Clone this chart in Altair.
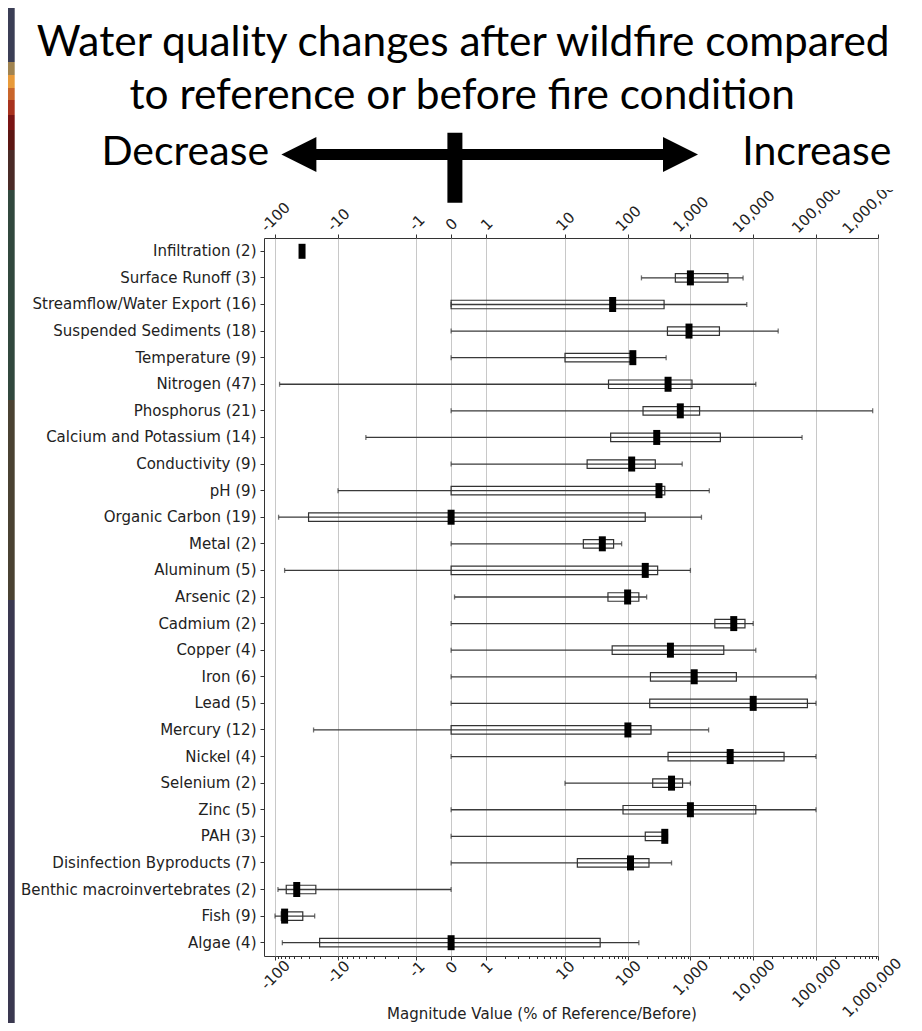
import altair as alt
import pandas as pd

# ---------------- data ----------------
names = [
    "Infiltration (2)", "Surface Runoff (3)", "Streamflow/Water Export (16)",
    "Suspended Sediments (18)", "Temperature (9)", "Nitrogen (47)",
    "Phosphorus (21)", "Calcium and Potassium (14)", "Conductivity (9)",
    "pH (9)", "Organic Carbon (19)", "Metal (2)", "Aluminum (5)",
    "Arsenic (2)", "Cadmium (2)", "Copper (4)", "Iron (6)", "Lead (5)",
    "Mercury (12)", "Nickel (4)", "Selenium (2)", "Zinc (5)", "PAH (3)",
    "Disinfection Byproducts (7)", "Benthic macroinvertebrates (2)",
    "Fish (9)", "Algae (4)",
]
whisker_low = [-40, 165, 0, 0, 0, -85, 0, -5, 0, -10, -88, 0, -71, 0.07, 0,
               0, 0, 0, -25, 0, 10, 0, 0, 0, -90, -100, -77]
q1 = [-39, 575, 0, 430, 10, 50, 175, 54, 23, 0, -30, 20, 0, 49, 2450, 57,
      230, 224, 0, 440, 250, 84, 190, 16, -67, -80, -20]
median = [-38, 1000, 58, 950, 120, 440, 690, 290, 115, 315, 0, 40, 190, 99,
          4900, 480, 1150, 10000, 100, 4300, 500, 1000, 390, 110, -46, -71, 0]
q3 = [-37, 3960, 380, 2900, 125, 1060, 1400, 3000, 275, 390, 190, 60, 300,
      150, 7400, 3400, 5400, 73000, 235, 31000, 750, 11000, 430, 218, -23,
      -37, 37]
whisker_high = [-36, 6900, 7900, 25000, 410, 11000, 810000, 60000, 740, 2000,
                1500, 80, 1000, 200, 10000, 11000, 100000, 100000, 1950,
                100000, 1000, 100000, 430, 500, 0, -24, 150]

tick_values = [-100, -10, -1, 0, 1, 10, 100, 1000, 10000, 100000, 1000000]
minor_values = ([-m * d for d in (1, 10) for m in range(2, 10)] +
                [m * d for d in (1, 10, 100, 1000, 10000, 100000) for m in range(2, 10)])

title_lines = ["Water quality changes after wildfire compared",
               "to reference or before fire condition"]
side_words = ["Decrease", "Increase"]
x_title = "Magnitude Value (% of Reference/Before)"

df = pd.DataFrame({"name": names, "lo": whisker_low, "q1": q1, "med": median,
                   "q3": q3, "hi": whisker_high})
one = pd.DataFrame({"k": [0]})

# ---------------- scales / axes ----------------
W, H = 614, 718
xscale = alt.Scale(type="symlog", constant=1, nice=False, zero=False,
                   domain=[-150] + tick_values,
                   range=[0, 11.0, 74.0, 152.4, 187.1, 222.3, 301.0, 363.9,
                          426.4, 489.2, 552.0, 614.4])
yscale = alt.Scale(type="band", paddingInner=0, paddingOuter=0)

def lab(v):
    return ("-" if v < 0 else "") + f"{abs(v):,}"

def pad_cond(base, k):
    conds = []
    for v in tick_values:
        s = lab(v)
        w = sum(9.54 if c.isdigit() else (4.77 if c == "," else 5.41) for c in s)
        conds.append({"test": f"datum.value === {v}", "value": round(base + (w + 11) * k, 1)})
    return {"condition": conds, "value": base}

# keep the widest label inside the page
offset_cond = {"condition": [{"test": "datum.value === 1000000", "value": -7}], "value": 0}

label_expr = "(datum.value < 0 ? '-' : '') + format(abs(datum.value), ',')"
FONT = "DejaVu Sans"

axis_bottom = alt.Axis(orient="bottom", values=tick_values, labelExpr=label_expr,
                       labelAngle=315, labelAlign="center", labelBaseline="middle",
                       labelPadding=pad_cond(1, 0.3), labelOffset=offset_cond,
                       labelFont=FONT, labelFontSize=15,
                       labelColor="#222", tickSize=4, tickColor="#333", domain=False,
                       grid=True, gridColor="#c8c8c8", gridWidth=1,
                       title=x_title, titleFont=FONT, titleFontSize=15,
                       titleFontWeight="normal", titleColor="#222",
                       titleX=277.5, titleY=62, titleAlign="center",
                       titleBaseline="alphabetic", labelOverlap=False, labelFlush=False,
                       labelLimit=0)
axis_top = alt.Axis(orient="top", values=tick_values, labelExpr=label_expr,
                    labelAngle=315, labelAlign="center", labelBaseline="middle",
                    labelPadding=pad_cond(4, 0.3), labelOffset=offset_cond,
                    labelFont=FONT, labelFontSize=15,
                    labelColor="#222", tickSize=4, tickColor="#333", domain=False,
                    grid=False, title=None, labelOverlap=False, labelFlush=False,
                    labelLimit=0)
axis_minor = alt.Axis(orient="bottom", values=minor_values, labels=False,
                      tickSize=2.5, tickColor="#333", domain=False, grid=False,
                      title=None)
yaxis = alt.Axis(title=None, labelFont=FONT, labelFontSize=15, labelColor="#222",
                 tickSize=4, tickColor="#333", labelPadding=4, domain=False,
                 labelLimit=0)

Y = alt.Y("name:N", sort=names, scale=yscale, axis=yaxis)
base = alt.Chart(df)

whisk = base.mark_rule(color="#3a3a3a", strokeWidth=1.3).encode(
    x=alt.X("lo:Q", scale=xscale, axis=axis_bottom), x2="hi:Q", y=Y)
cap_lo = base.mark_tick(color="#3a3a3a", size=5, thickness=1.3).encode(
    x=alt.X("lo:Q", scale=xscale, axis=axis_minor), y=Y)
cap_hi = base.mark_tick(color="#3a3a3a", size=5, thickness=1.3).encode(
    x=alt.X("hi:Q", scale=xscale, axis=None), y=Y)
box = base.mark_bar(size=8.5, fill="white", fillOpacity=0, stroke="#333",
                    strokeWidth=1.2).encode(
    x=alt.X("q1:Q", scale=xscale, axis=None), x2="q3:Q", y=Y)
med = base.mark_tick(color="black", size=15, thickness=7, opacity=1).encode(
    x=alt.X("med:Q", scale=xscale, axis=axis_top), y=Y)

# ---------------- header annotation (pixel placement relative to plot) ----
ox, oy = 264.3, 238.0
hdr = alt.Chart(one)
cover = hdr.mark_rect(color="white").encode(
    x=alt.value(700 - ox), x2=alt.value(906 - ox), y=alt.value(140 - oy), y2=alt.value(190 - oy))
t1 = hdr.mark_text(font="Lato", fontSize=42.4, align="center", baseline="alphabetic",
                   color="black", text=title_lines[0]).encode(
    x=alt.value(463.5 - ox), y=alt.value(56 - oy))
t2 = hdr.mark_text(font="Lato", fontSize=42.4, align="center", baseline="alphabetic",
                   color="black", text=title_lines[1]).encode(
    x=alt.value(462.5 - ox), y=alt.value(109 - oy))
dec = hdr.mark_text(font="Lato", fontSize=41, align="left", baseline="alphabetic",
                    color="black", text=side_words[0]).encode(
    x=alt.value(101.7 - ox), y=alt.value(165 - oy))
inc = hdr.mark_text(font="Lato", fontSize=41, align="right", baseline="alphabetic",
                    color="black", text=side_words[1]).encode(
    x=alt.value(891.7 - ox), y=alt.value(165 - oy))
shaft = hdr.mark_rule(color="black", strokeWidth=11).encode(
    x=alt.value(299 - ox), x2=alt.value(681 - ox), y=alt.value(154.5 - oy))
head_l = hdr.mark_point(shape="M -1 0 L 1 -1 L 1 1 Z", filled=True, size=1225,
                        color="black", opacity=1, strokeWidth=0).encode(
    x=alt.value(299.2 - ox), y=alt.value(154.5 - oy))
head_r = hdr.mark_point(shape="M 1 0 L -1 -1 L -1 1 Z", filled=True, size=1225,
                        color="black", opacity=1, strokeWidth=0).encode(
    x=alt.value(680.8 - ox), y=alt.value(154.5 - oy))
vbar = hdr.mark_rule(color="black", strokeWidth=15).encode(
    x=alt.value(455.2 - ox), y=alt.value(132.7 - oy), y2=alt.value(202.7 - oy))

# slide frame strip on the left edge (decoration)
strip_bands = [(8, 62, "#3b3e55"), (62, 75, "#a08350"), (75, 88, "#e89a3a"),
               (88, 100, "#c9652b"), (100, 115, "#a8321e"), (115, 130, "#7a1414"),
               (130, 150, "#5c1512"), (150, 190, "#4a2a26"), (190, 400, "#31483d"),
               (400, 600, "#4a4232"), (600, 1023, "#3a3850")]
strips = [hdr.mark_rect(color=c).encode(
    x=alt.value(8 - ox), x2=alt.value(15 - ox), y=alt.value(a - oy), y2=alt.value(b - oy))
    for a, b, c in strip_bands]

chart = alt.layer(
    whisk, cap_lo, cap_hi, box, med,
    cover, t1, t2, dec, inc, shaft, head_l, head_r, vbar, *strips,
).resolve_axis(x="independent").properties(
    width=W, height=H,
    autosize=alt.AutoSizeParams(type="none"),
    padding={"left": 256, "top": 230, "right": 28, "bottom": 67},
    background="white",
).configure_view(stroke="#333", strokeWidth=1)

chart.save("out.html", embed_options={"renderer": "svg", "actions": False})
